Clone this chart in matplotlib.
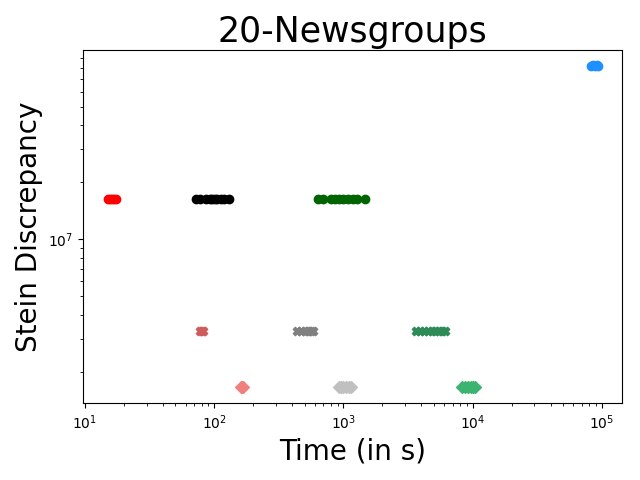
import matplotlib
matplotlib.use("Agg")
from matplotlib import pyplot as plt

# times (s) and discrepancies
red_t = [15.0, 15.6, 16.2, 16.8, 17.4]
black_t = [72, 78, 86, 92, 97, 101, 106, 112, 119, 130]
green_t = [640, 700, 800, 860, 920, 1000, 1080, 1180, 1280, 1480]
blue_t = [82000, 85000, 88000, 91000, 93000]
blue_sd = [8.15e7, 8.25e7, 8.2e7, 8.3e7, 8.2e7]
red_sd, black_sd, green_sd = 1.63e7, 1.63e7, 1.63e7

xred_t = [78, 80, 82]
xgray_t = [440, 470, 500, 530, 560, 580]
xgreen_t = [3650, 3900, 4200, 4500, 4800, 5100, 5500, 5800, 6150]
x_sd = 3.28e6

dred_t = [160, 163, 166]
dgray_t = [920, 960, 1000, 1050, 1100, 1140]
dgreen_t = [8250, 8700, 9200, 9700, 10100, 10400]
d_sd = 1.66e6

fig, ax = plt.subplots(figsize=(6.4, 4.8), dpi=100)

ax.scatter(red_t, [red_sd] * len(red_t), color='red', marker='o')
ax.scatter(black_t, [black_sd] * len(black_t), color='black', marker='o')
ax.scatter(green_t, [green_sd] * len(green_t), color='darkgreen', marker='o')
ax.scatter(blue_t, blue_sd, color='dodgerblue', marker='o')

ax.scatter(xred_t, [x_sd] * len(xred_t), color='indianred', marker='X')
ax.scatter(xgray_t, [x_sd] * len(xgray_t), color='grey', marker='X')
ax.scatter(xgreen_t, [x_sd] * len(xgreen_t), color='seagreen', marker='X')

ax.scatter(dred_t, [d_sd] * len(dred_t), color='lightcoral', marker='D')
ax.scatter(dgray_t, [d_sd] * len(dgray_t), color='silver', marker='D')
ax.scatter(dgreen_t, [d_sd] * len(dgreen_t), color='mediumseagreen', marker='D')

ax.set_xscale('log')
ax.set_yscale('log')
ax.set_xlim(9.7, 1.43e5)
ax.set_ylim(1.37e6, 9.95e7)
ax.set_title('20-Newsgroups', fontsize=25)
ax.set_xlabel('Time (in s)', fontsize=20)
ax.set_ylabel('Stein Discrepancy', fontsize=20)

plt.subplots_adjust(left=0.13, right=0.972, top=0.896, bottom=0.16)
plt.savefig("out.png", dpi=100)
